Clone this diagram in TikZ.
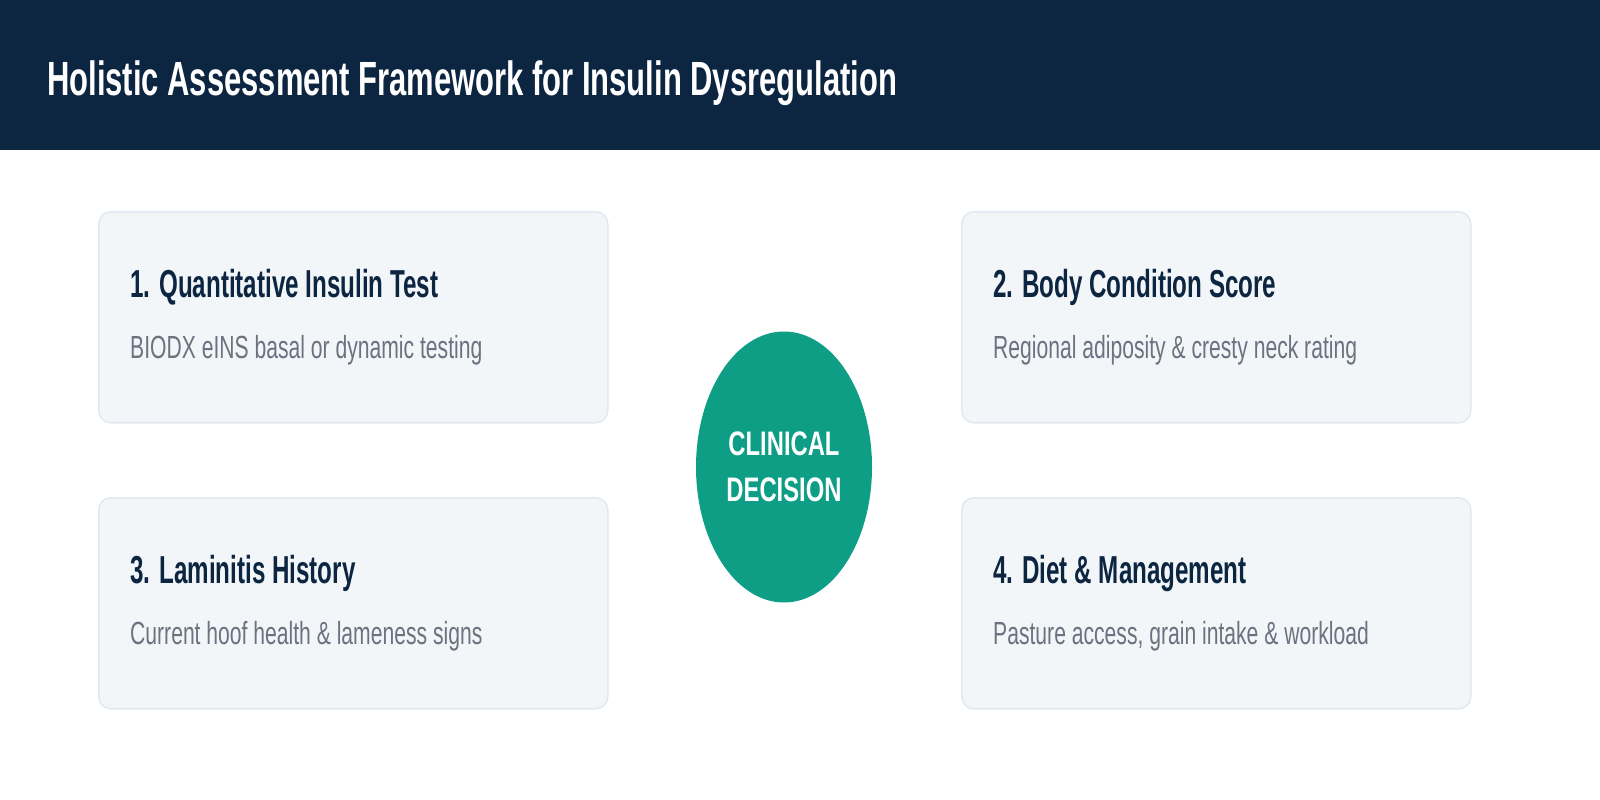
\documentclass[tikz,border=0pt]{standalone}
\usepackage{fontspec}
\setmainfont{Liberation Sans}[FakeStretch=0.62]
\newfontfamily\headfont{Liberation Sans}[FakeStretch=0.645]
\newfontfamily\bodyfont{Liberation Sans}[FakeStretch=0.66]
\newfontfamily\badgefont{Liberation Sans}[FakeStretch=0.7]
\usetikzlibrary{shapes.geometric}
\definecolor{navy}{HTML}{0C2541}
\definecolor{cardbg}{HTML}{F3F6F9}
\definecolor{cardline}{HTML}{E2E8F0}
\definecolor{slate}{HTML}{6B7280}
\definecolor{decisioncol}{HTML}{0E9E86}
\tikzset{card/.style = {draw=cardline, fill=cardbg, line width=1.5pt, rounded corners=12pt,
                        minimum width=509pt, minimum height=211pt, anchor=north west}}

\begin{document}
\begin{tikzpicture}[x=1pt,y=-1pt,
    cardtitle/.style={anchor=base west, text=navy, font={\fontsize{39}{44}\selectfont\bfseries}},
    cardtext/.style={anchor=base west, text=slate, font={\bodyfont\fontsize{32}{38}\selectfont}},
    ]
    \useasboundingbox (0,0) rectangle (1600,800);

    % Header band
    \fill[navy] (0,0) rectangle (1600,150);
    \node[anchor=base west, text=white, inner sep=0pt,
          font={\headfont\fontsize{48}{56}\selectfont\bfseries}] (header) at (47,95)
        {Holistic Assessment Framework for Insulin Dysregulation};

    % Four cards
    \foreach \x/\y/\nm/\head/\body in {
        98/211/test/{1. Quantitative Insulin Test}/{BIODX eINS basal or dynamic testing},
        961/211/bcs/{2. Body Condition Score}/{Regional adiposity \& cresty neck rating},
        98/497/lami/{3. Laminitis History}/{Current hoof health \& lameness signs},
        961/497/diet/{4. Diet \& Management}/{Pasture access, grain intake \& workload}}{
        \node[card] (\nm) at (\x,\y) {};
        \node[cardtitle, inner sep=0pt] (\nm title) at (\x+32,\y+86) {\head};
        \node[cardtext, inner sep=0pt] (\nm text) at (\x+32,\y+147) {\body};
    }

    % Centre
    \node[ellipse, fill=decisioncol, minimum width=176pt, minimum height=271pt,
          align=center, text=white, font={\badgefont\fontsize{34}{46}\selectfont\bfseries}]
        (decision) at (784,467) {CLINICAL\\DECISION};

\end{tikzpicture}
\end{document}
